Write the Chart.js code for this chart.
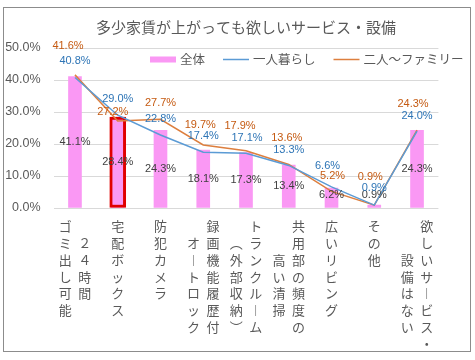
<!DOCTYPE html>
<html lang="ja">
<head>
<meta charset="utf-8">
<script src="https://cdn.jsdelivr.net/npm/chart.js@4.4.1/dist/chart.umd.min.js"></script>
<style>
    html, body { margin: 0; padding: 0; background: #fff; }
</style>
</head>
<body>
<canvas id="chart" width="475" height="360"></canvas>
<script>
var chartTitle = '多少家賃が上がっても欲しいサービス・設備';

// each category is split into its vertical columns, first column = rightmost
var categories = [
    ['２４時間', 'ゴミ出し可能'],
    ['宅配ボックス'],
    ['防犯カメラ'],
    ['録画機能履歴付', 'オートロック'],
    ['トランクルーム', '（外部収納）'],
    ['共用部の頻度の', '高い清掃'],
    ['広いリビング'],
    ['その他'],
    ['欲しいサービス・', '設備はない']
];
var seriesNames = ['全体', '一人暮らし', '二人～ファミリー'];
var allValues = [41.1, 28.4, 24.3, 18.1, 17.3, 13.4, 6.2, 0.9, 24.3];
var singleValues = [40.8, 29.0, 22.8, 17.4, 17.1, 13.3, 6.6, 0.9, 24.0];
var familyValues = [41.6, 27.2, 27.7, 19.7, 17.9, 13.6, 5.2, 0.9, 24.3];
var highlightIndex = 1;
var yTicks = [0, 10, 20, 30, 40, 50];
var yTickLabels = ['0.0%', '10.0%', '20.0%', '30.0%', '40.0%', '50.0%'];

// label nudges (px) so the line labels sit where the original put them
var singleLabelDx = [0, 0, 0, 0, 1, 0, -4, 0, 0];
var singleLabelDy = [-16, -16, -16, -16, -15, -15, -21, -17, -15];
var familyLabelDx = [-7, -5, 0, -3, -6, -2, 1, -4, -4];
var familyLabelDy = [-29, -9, -16, -20, -25, -27, -15, -28, -26];

var grey = '#595959';
var cjk = '"Noto Sans CJK JP", sans-serif';
var latin = '"Liberation Sans", Arial, sans-serif';

var verticalForms = { 'ー': '︱', '（': '︵', '）': '︶' };

// turn the columns into one line per row so the axis draws stacked text
function stackLabel(cols) {
    var rows = Math.max.apply(null, cols.map(function(c) { return c.length; }));
    var lines = [];
    for (var r = 0; r < rows; r++) {
        var parts = cols.slice().reverse().map(function(c) {
            var off = Math.round((rows - c.length) / 2);
            var ch = c.charAt(r - off);
            return ch ? (verticalForms[ch] || ch) : '\u3000';
        });
        lines.push(parts.join('\u2002'));
    }
    return lines;
}

var frame = {
    id: 'frame',
    beforeDraw: function(chart) {
        var ctx = chart.ctx;
        ctx.save();
        ctx.fillStyle = '#fff';
        ctx.fillRect(0, 0, chart.width, chart.height);
        ctx.strokeStyle = '#8c8c8c';
        ctx.lineWidth = 1;
        ctx.strokeRect(3.5, 7.5, 467, 344);
        ctx.restore();
    }
};

var valueLabels = {
    id: 'valueLabels',
    afterDatasetsDraw: function(chart) {
        var ctx = chart.ctx;
        ctx.save();
        ctx.font = '11px ' + latin;
        ctx.textAlign = 'center';
        ctx.textBaseline = 'middle';

        var bars = chart.getDatasetMeta(0).data;
        ctx.fillStyle = '#404040';
        bars.forEach(function(el, i) {
            var y = Math.min((el.y + el.base) / 2, el.base - 13);
            ctx.fillText(allValues[i].toFixed(1) + '%', el.x, y);
        });

        var fam = chart.getDatasetMeta(3).data;
        ctx.fillStyle = '#C55A11';
        fam.forEach(function(el, i) {
            ctx.fillText(familyValues[i].toFixed(1) + '%', el.x + familyLabelDx[i], el.y + familyLabelDy[i]);
        });

        var single = chart.getDatasetMeta(2).data;
        ctx.fillStyle = '#2E75B6';
        single.forEach(function(el, i) {
            ctx.fillText(singleValues[i].toFixed(1) + '%', el.x + singleLabelDx[i], el.y + singleLabelDy[i]);
        });
        ctx.restore();
    }
};

// legend sits inside the plot, so draw it by hand
var inlineLegend = {
    id: 'inlineLegend',
    afterDraw: function(chart) {
        var ctx = chart.ctx;
        var x = 150, y = 59.5;
        ctx.save();
        ctx.font = '12.5px ' + cjk;
        ctx.textBaseline = 'middle';
        chart.data.datasets.forEach(function(ds) {
            if (ds.noLegend) return;
            if (ds.type === 'line') {
                ctx.strokeStyle = ds.borderColor;
                ctx.lineWidth = ds.borderWidth;
                ctx.beginPath();
                ctx.moveTo(x, y);
                ctx.lineTo(x + 26, y);
                ctx.stroke();
            } else {
                ctx.fillStyle = ds.backgroundColor;
                ctx.fillRect(x, y - 3, 26, 6);
            }
            x += 30;
            ctx.fillStyle = grey;
            ctx.fillText(ds.label, x, y);
            x += ctx.measureText(ds.label).width + 18;
        });
        ctx.restore();
    }
};

var ctx = document.getElementById('chart').getContext('2d');
var chart = new Chart(ctx, {
    type: 'bar',
    data: {
        labels: categories.map(stackLabel),
        datasets: [
            {
                label: seriesNames[0],
                data: allValues,
                backgroundColor: '#FA98F4',
                barThickness: 13,
                grouped: false,
                order: 3
            },
            {
                label: 'highlight',
                noLegend: true,
                data: allValues.map(function(v, i) { return i === highlightIndex ? v : null; }),
                backgroundColor: '#FA98F4',
                borderColor: '#E00000',
                borderWidth: 3,
                borderSkipped: false,
                barThickness: 16,
                grouped: false,
                order: 2
            },
            {
                type: 'line',
                label: seriesNames[1],
                data: singleValues,
                borderColor: '#5B9BD5',
                borderWidth: 1.5,
                pointRadius: 0,
                tension: 0,
                order: 0
            },
            {
                type: 'line',
                label: seriesNames[2],
                data: familyValues,
                borderColor: '#DD7F3E',
                borderWidth: 1.5,
                pointRadius: 0,
                tension: 0,
                order: 1
            }
        ]
    },
    options: {
        responsive: false,
        animation: false,
        layout: {
            padding: { left: 5, right: 36.6, top: 8, bottom: 4 }
        },
        plugins: {
            legend: { display: false },
            tooltip: { enabled: false },
            title: {
                display: true,
                text: chartTitle,
                fullSize: false,
                color: grey,
                font: { family: cjk, size: 15, weight: 'normal' },
                padding: { top: 10, bottom: 12 }
            }
        },
        scales: {
            x: {
                grid: { display: false, drawTicks: false },
                border: { display: false },
                ticks: {
                    color: grey,
                    font: { family: cjk, size: 13, lineHeight: 1.29 },
                    padding: 10,
                    maxRotation: 0,
                    autoSkip: false
                },
                afterFit: function(scale) { scale.height = 148; }
            },
            y: {
                min: 0,
                max: 50,
                afterBuildTicks: function(scale) {
                    scale.ticks = yTicks.map(function(v) { return { value: v }; });
                },
                ticks: {
                    color: grey,
                    font: { family: latin, size: 12.5 },
                    padding: 13,
                    callback: function(value) { return yTickLabels[yTicks.indexOf(value)]; }
                },
                grid: { color: '#D9D9D9', drawTicks: false },
                border: { display: false },
                afterFit: function(scale) { scale.width = 48.6; }
            }
        }
    },
    plugins: [frame, valueLabels, inlineLegend]
});
</script>
</body>
</html>
